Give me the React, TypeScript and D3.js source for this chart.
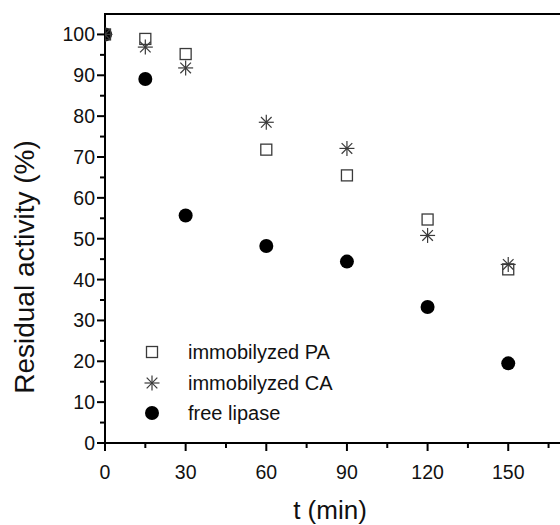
import React, { useEffect, useRef } from "react";
import * as d3 from "d3";

const times = [0, 15, 30, 60, 90, 120, 150];
const immobilizedPA = [100, 98.9, 95.2, 71.8, 65.5, 54.7, 42.5];
const immobilizedCA = [100, 96.9, 91.8, 78.5, 72.1, 50.8, 43.7];
const freeLipase = [100, 89.1, 55.7, 48.2, 44.4, 33.3, 19.5];

const xMajorTicks = [0, 30, 60, 90, 120, 150];
const xMinorTicks = [15, 45, 75, 105, 135, 165];
const yMajorTicks = [0, 10, 20, 30, 40, 50, 60, 70, 80, 90, 100];
const yMinorTicks = [5, 15, 25, 35, 45, 55, 65, 75, 85, 95];

const legendLabels = ["immobilyzed PA", "immobilyzed CA", "free lipase"];

const W = 560;
const H = 525;

export default function App() {
  const ref = useRef<SVGSVGElement>(null);

  useEffect(() => {
    const svg = d3.select(ref.current);
    svg.selectAll("*").remove();

    const x = d3.scaleLinear().domain([0, 170]).range([105, 562]);
    const y = d3.scaleLinear().domain([0, 105]).range([443, 14]);
    const font = "'Liberation Sans', Arial, sans-serif";
    const axisColor = "#000";

    svg
      .append("defs")
      .append("clipPath")
      .attr("id", "plotclip")
      .append("rect")
      .attr("x", x(0))
      .attr("y", y(105))
      .attr("width", x(170) - x(0))
      .attr("height", y(0) - y(105));

    // axes lines
    svg.append("line").attr("x1", x(0)).attr("x2", W).attr("y1", y(0)).attr("y2", y(0))
      .attr("stroke", axisColor).attr("stroke-width", 2);
    svg.append("line").attr("x1", x(0)).attr("x2", W).attr("y1", y(105)).attr("y2", y(105))
      .attr("stroke", axisColor).attr("stroke-width", 2);
    svg.append("line").attr("x1", x(0)).attr("x2", x(0)).attr("y1", y(105) - 1).attr("y2", y(0) + 1)
      .attr("stroke", axisColor).attr("stroke-width", 2);

    // x ticks
    svg.selectAll(".xmaj").data(xMajorTicks).enter().append("line")
      .attr("x1", (d) => x(d)).attr("x2", (d) => x(d))
      .attr("y1", y(0)).attr("y2", y(0) + 8)
      .attr("stroke", axisColor).attr("stroke-width", 2);
    svg.selectAll(".xmin").data(xMinorTicks).enter().append("line")
      .attr("x1", (d) => x(d)).attr("x2", (d) => x(d))
      .attr("y1", y(0)).attr("y2", y(0) + 5)
      .attr("stroke", axisColor).attr("stroke-width", 2);
    svg.selectAll(".xlab").data(xMajorTicks).enter().append("text")
      .attr("x", (d) => x(d)).attr("y", 479)
      .attr("text-anchor", "middle")
      .attr("font-family", font).attr("font-size", 19.5).attr("fill", "#111")
      .text((d) => String(d));

    // y ticks
    svg.selectAll(".ymaj").data(yMajorTicks).enter().append("line")
      .attr("x1", x(0) - 8).attr("x2", x(0))
      .attr("y1", (d) => y(d)).attr("y2", (d) => y(d))
      .attr("stroke", axisColor).attr("stroke-width", 2);
    svg.selectAll(".ymin").data(yMinorTicks).enter().append("line")
      .attr("x1", x(0) - 5).attr("x2", x(0))
      .attr("y1", (d) => y(d)).attr("y2", (d) => y(d))
      .attr("stroke", axisColor).attr("stroke-width", 2);
    svg.selectAll(".ylab").data(yMajorTicks).enter().append("text")
      .attr("x", 95).attr("y", (d) => y(d) + 7)
      .attr("text-anchor", "end")
      .attr("font-family", font).attr("font-size", 19.5).attr("fill", "#111")
      .text((d) => String(d));

    // titles
    svg.append("text")
      .attr("x", 330).attr("y", 519)
      .attr("text-anchor", "middle")
      .attr("font-family", font).attr("font-size", 26).attr("fill", "#111")
      .text("t (min)");
    svg.append("text")
      .attr("transform", `translate(34, 267) rotate(-90)`)
      .attr("text-anchor", "middle")
      .attr("font-family", font).attr("font-size", 28).attr("fill", "#111")
      .text("Residual activity (%)");

    const plot = svg.append("g").attr("clip-path", "url(#plotclip)");

    const drawSquare = (g: any, cx: number, cy: number) => {
      g.append("rect")
        .attr("x", cx - 5.5).attr("y", cy - 5.5)
        .attr("width", 11).attr("height", 11)
        .attr("fill", "none").attr("stroke", "#3a3a3a").attr("stroke-width", 1.3);
    };
    const drawStar = (g: any, cx: number, cy: number) => {
      const r = 7.5;
      const d = r * Math.SQRT1_2;
      const segs = [
        [0, -r, 0, r],
        [-r, 0, r, 0],
        [-d, -d, d, d],
        [-d, d, d, -d],
      ];
      segs.forEach((s) => {
        g.append("line")
          .attr("x1", cx + s[0]).attr("y1", cy + s[1])
          .attr("x2", cx + s[2]).attr("y2", cy + s[3])
          .attr("stroke", "#3a3a3a").attr("stroke-width", 1.2);
      });
    };
    const drawCircle = (g: any, cx: number, cy: number) => {
      g.append("circle").attr("cx", cx).attr("cy", cy).attr("r", 7).attr("fill", "#000");
    };

    times.forEach((t, i) => drawCircle(plot, x(t), y(freeLipase[i])));
    times.forEach((t, i) => drawSquare(plot, x(t), y(immobilizedPA[i])));
    times.forEach((t, i) => drawStar(plot, x(t), y(immobilizedCA[i])));

    // legend
    const legY = [352, 383, 413];
    const drawers = [drawSquare, drawStar, drawCircle];
    legendLabels.forEach((lab, i) => {
      drawers[i](svg, 152, legY[i]);
      svg.append("text")
        .attr("x", 188).attr("y", legY[i] + 7)
        .attr("font-family", font).attr("font-size", 20).attr("fill", "#111")
        .text(lab);
    });
  }, []);

  return (
    <svg
      ref={ref}
      width={W}
      height={H}
      style={{ position: "absolute", left: 0, top: 0, background: "#fff" }}
    />
  );
}
